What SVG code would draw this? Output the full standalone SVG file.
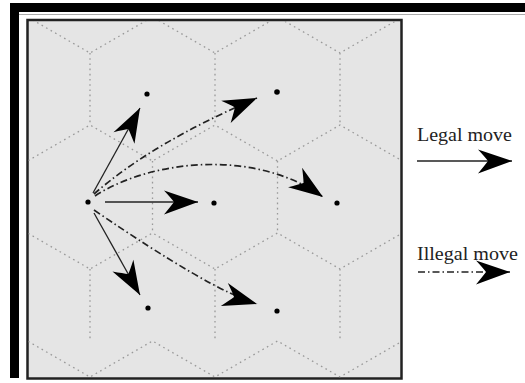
<svg xmlns="http://www.w3.org/2000/svg" width="525" height="383" viewBox="0 0 525 383">
<style>
.grid{fill:none;stroke:#999;stroke-width:1.3;stroke-dasharray:1.6 3.6;}
.solid{fill:none;stroke:#222;stroke-width:1.3;}
.dd{fill:none;stroke:#222;stroke-width:1.7;stroke-dasharray:7 3 1.5 3;}
.dot{fill:#000;}
.lbl{font-family:"Liberation Serif","Times New Roman",serif;font-size:18px;fill:#222;}
</style>
<defs>
<marker id="ah" markerUnits="userSpaceOnUse" viewBox="-36 -14 38 28" refX="0" refY="0" markerWidth="38" markerHeight="28" orient="auto" overflow="visible">
<path d="M0,0 L-34,-11.5 Q-27,-4 -24,0 Q-27,4 -34,12.5 Z" fill="#000"/>
</marker>
<clipPath id="boxclip"><rect x="28.5" y="21" width="372" height="356.5"/></clipPath>
</defs>
<rect width="525" height="383" fill="#fff"/>
<g id="frame">
<rect x="10" y="3" width="515" height="9" fill="#000"/>
<rect x="10" y="3" width="9" height="375" fill="#000"/>
<line x1="19" y1="14.5" x2="525" y2="14.5" stroke="#aaa" stroke-width="1"/>
</g>
<g id="board">
<rect x="27.5" y="20" width="374" height="358.5" fill="#e5e5e5" stroke="#222" stroke-width="2.5"/>
<g clip-path="url(#boxclip)">
<path class="grid" d="M-35,53 L27.5,17 L90,53 L152.5,17 L215,53 L277.5,17 L340,53 L402.5,17 L465,53
M-35,125 L27.5,161 L90,125 L152.5,161 L215,125 L277.5,161 L340,125 L402.5,161 L465,125
M-35,269 L27.5,233 L90,269 L152.5,233 L215,269 L277.5,233 L340,269 L402.5,233 L465,269
M-35,377 L27.5,341 L90,377 L152.5,341 L215,377 L277.5,341 L340,377 L402.5,341 L465,377
M90,53 V125 M215,53 V125 M340,53 V125
M152.5,161 V233 M277.5,161 V233
M90,269 V341 M215,269 V341 M340,269 V341"/>
</g>
</g>
<g id="connectors">
<path class="solid" d="M93,193 L140,108" marker-end="url(#ah)"/>
<path class="solid" d="M105,202 L198,202" marker-end="url(#ah)"/>
<path class="solid" d="M94,213 L140,295" marker-end="url(#ah)"/>
<path class="dd" d="M94,194 Q152,143 257,98" marker-end="url(#ah)"/>
<path class="dd" d="M95,196 C150,160 255,148 323,197" marker-end="url(#ah)"/>
<path class="dd" d="M94,210 Q211,290 257,304" marker-end="url(#ah)"/>
</g>
<g id="origin"><circle class="dot" cx="88" cy="202" r="2.6"/></g>
<g id="target-upper-left"><circle class="dot" cx="147" cy="94" r="2.6"/></g>
<g id="target-upper-right"><circle class="dot" cx="277" cy="92" r="2.8"/></g>
<g id="target-middle"><circle class="dot" cx="214" cy="203" r="2.6"/></g>
<g id="target-right"><circle class="dot" cx="337" cy="203" r="2.6"/></g>
<g id="target-lower-left"><circle class="dot" cx="148" cy="308" r="2.6"/></g>
<g id="target-lower-right"><circle class="dot" cx="277" cy="311" r="2.6"/></g>
<g id="legend-legal">
<text class="lbl" x="417" y="141" textLength="95" lengthAdjust="spacingAndGlyphs">Legal move</text>
<path class="solid" d="M417,161 L512,161" marker-end="url(#ah)"/>
</g>
<g id="legend-illegal">
<text class="lbl" x="417" y="260" textLength="101" lengthAdjust="spacingAndGlyphs">Illegal move</text>
<path class="dd" d="M418,272 L510,272" marker-end="url(#ah)"/>
</g>
</svg>
